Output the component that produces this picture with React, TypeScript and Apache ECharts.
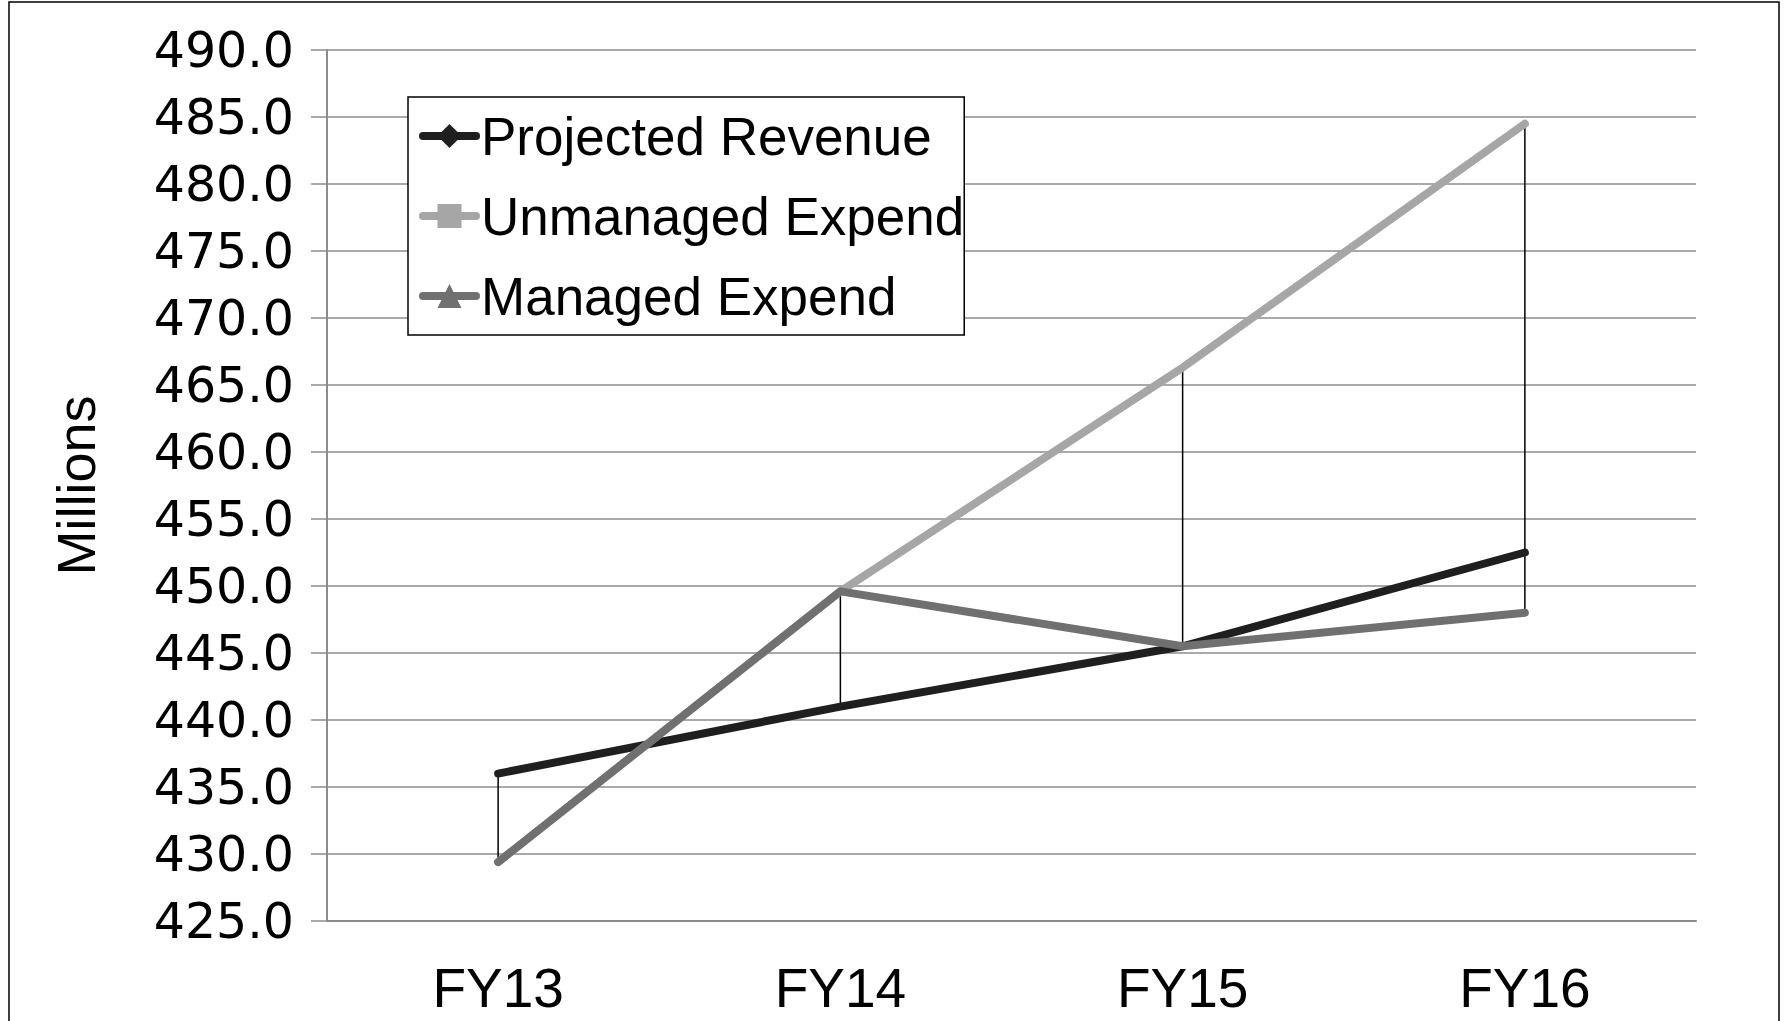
import React, { useEffect, useRef } from "react";
import * as echarts from "echarts";

const categories = ["FY13", "FY14", "FY15", "FY16"];
const projectedRevenue = [436.0, 441.0, 445.5, 452.5];
const unmanagedExpend = [429.4, 449.6, 466.3, 484.5];
const managedExpend = [429.4, 449.6, 445.5, 448.0];
const yMin = 425;
const yMax = 490;
const yStep = 5;

const seriesDefs = [
  { name: "Projected Revenue", data: projectedRevenue, color: "#1f1f1f", symbol: "diamond" },
  { name: "Unmanaged Expend", data: unmanagedExpend, color: "#a6a6a6", symbol: "rect" },
  { name: "Managed Expend", data: managedExpend, color: "#707070", symbol: "triangle" },
];

export default function App() {
  const ref = useRef<HTMLDivElement>(null);
  useEffect(() => {
    if (!ref.current) return;
    const chart = echarts.init(ref.current, null, { renderer: "svg" });
    const hiLo = categories.map((_, i) => {
      const vals = seriesDefs.map((s) => s.data[i]);
      return [i, Math.min(...vals), Math.max(...vals)];
    });
    chart.setOption({
      animation: false,
      backgroundColor: "#ffffff",
      graphic: [
        {
          type: "rect",
          shape: { x: 9, y: 2, width: 1770, height: 1100 },
          style: { fill: "none", stroke: "#000", lineWidth: 1.5 },
          silent: true,
        },
      ],
      grid: { left: 327, right: 91, top: 50, bottom: 100 },
      legend: {
        data: seriesDefs.map((s) => ({ name: s.name })),
        orient: "vertical",
        left: 408,
        top: 97,
        padding: [8, 0, 8, 11],
        itemGap: 18,
        itemWidth: 53,
        itemHeight: 30,
        backgroundColor: "#fff",
        borderColor: "#000",
        borderWidth: 1.5,
        lineStyle: { width: 8, cap: "round" },
        textStyle: {
          fontFamily: "Liberation Sans",
          fontSize: 53,
          lineHeight: 62,
          color: "#000",
        },
      },
      xAxis: {
        type: "category",
        data: categories,
        boundaryGap: true,
        axisLine: { show: true, lineStyle: { color: "#8c8c8c", width: 2 } },
        axisTick: { show: false },
        axisLabel: {
          margin: 39,
          fontFamily: "Liberation Sans",
          fontSize: 55,
          color: "#000",
        },
      },
      yAxis: {
        type: "value",
        min: yMin,
        max: yMax,
        interval: yStep,
        name: "Millions",
        nameLocation: "middle",
        nameRotate: 90,
        nameGap: 224,
        nameTextStyle: { fontFamily: "Liberation Sans", fontSize: 54, color: "#000" },
        axisLine: { show: true, lineStyle: { color: "#8c8c8c", width: 2 } },
        axisTick: { show: true, length: 16, lineStyle: { color: "#8c8c8c", width: 1.5 } },
        splitLine: { show: true, lineStyle: { color: "#8c8c8c", width: 1.5 } },
        axisLabel: {
          margin: 33,
          fontFamily: "DejaVu Sans",
          fontSize: 49,
          color: "#000",
          formatter: (v: number) => v.toFixed(1),
        },
      },
      series: [
        {
          type: "custom",
          name: "hilo",
          z: 1,
          silent: true,
          encode: { x: 0, y: [1, 2] },
          data: hiLo,
          renderItem: (params: any, api: any) => {
            const lo = api.coord([api.value(0), api.value(1)]);
            const hi = api.coord([api.value(0), api.value(2)]);
            return {
              type: "line",
              shape: { x1: lo[0], y1: lo[1], x2: hi[0], y2: hi[1] },
              style: { stroke: "#000", lineWidth: 1.5 },
            };
          },
        },
        ...seriesDefs.map((s, k) => ({
          type: "line",
          name: s.name,
          data: s.data,
          z: 2 + k,
          symbol: s.symbol,
          showSymbol: false,
          color: s.color,
          itemStyle: { color: s.color },
          lineStyle: { color: s.color, width: 8, cap: "round", join: "round" },
        })),
      ],
    });
    return () => chart.dispose();
  }, []);
  return (
    <div
      ref={ref}
      style={{ position: "fixed", left: 0, top: 0, width: 1787, height: 1021, background: "#fff" }}
    />
  );
}
